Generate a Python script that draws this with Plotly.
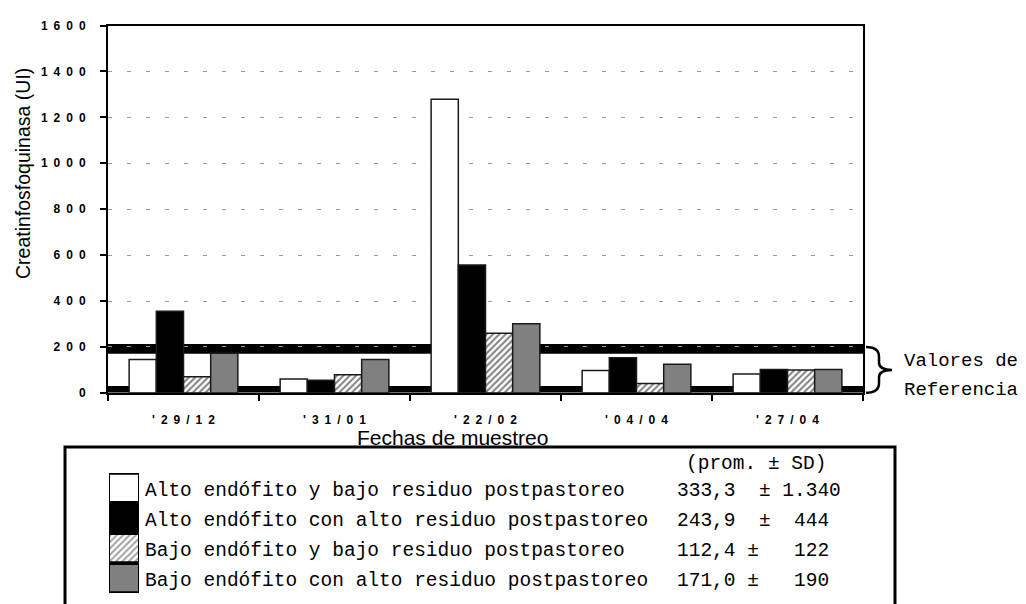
import plotly.graph_objects as go

# ---------------- data ----------------
categories = ["'29/12", "'31/01", "'22/02", "'04/04", "'27/04"]
alto_bajo = [145, 60, 1279, 97, 82]      # Alto endófito y bajo residuo
alto_alto = [355, 55, 557, 153, 102]     # Alto endófito con alto residuo
bajo_bajo = [70, 79, 260, 41, 99]        # Bajo endófito y bajo residuo
bajo_alto = [172, 145, 301, 125, 102]    # Bajo endófito con alto residuo

series_names = [
    "Alto endófito y bajo residuo postpastoreo",
    "Alto endófito con alto residuo postpastoreo",
    "Bajo endófito y bajo residuo postpastoreo",
    "Bajo endófito con alto residuo postpastoreo",
]
series_stats = ["333,3\u00a0\u00a0±\u00a01.340", "243,9\u00a0\u00a0±\u00a0\u00a0444",
                "112,4\u00a0±\u00a0\u00a0\u00a0122", "171,0\u00a0±\u00a0\u00a0\u00a0190"]
ref_band_high = [170, 213]
ref_band_low = [0, 30]
y_ticks = [0, 200, 400, 600, 800, 1000, 1200, 1400, 1600]

colors = ["white", "black", "white", "#808080"]
patterns = ["", "", "/", ""]

W, H = 1026, 604
def px(x): return x / W
def py(y): return 1 - y / H

EN = "\u2002"
def spaced(s):
    return EN.join(list(s))

fig = go.Figure()
for name, vals, c, p in zip(series_names, [alto_bajo, alto_alto, bajo_bajo, bajo_alto], colors, patterns):
    fig.add_trace(go.Bar(
        x=categories, y=vals, name=name, showlegend=False,
        marker=dict(color=c, line=dict(color="#1a1a1a", width=1.5),
                    pattern=dict(shape=p, fgcolor="black", bgcolor="white", size=4.5, solidity=0.45)),
        xaxis="x", yaxis="y"))

# legend swatches
fig.add_trace(go.Bar(
    x=[1, 1, 1, 1], y=[0, 1, 2, 3], orientation="h", width=0.94, showlegend=False,
    marker=dict(color=colors, line=dict(color="black", width=2),
                pattern=dict(shape=patterns, fgcolor="black", size=4.5, solidity=0.45)),
    xaxis="x2", yaxis="y2", hoverinfo="skip"))

tickfont = dict(family="Liberation Sans, Arial", size=12, color="black", weight=700)

fig.update_layout(
    width=W, height=H, margin=dict(l=0, r=0, t=0, b=0),
    paper_bgcolor="white", plot_bgcolor="white",
    barmode="group", bargap=0.28, bargroupgap=0,
    xaxis=dict(domain=[px(108), px(863)], type="category",
               tickvals=categories, ticktext=["<b>" + spaced(c) + "</b>" for c in categories],
               tickfont=tickfont, ticks="outside", tickson="boundaries", ticklen=6,
               tickwidth=1.5, tickcolor="black", showline=True, mirror=True,
               linecolor="black", linewidth=1.5, showgrid=False, ticklabelstandoff=15),
    yaxis=dict(domain=[py(395), py(19)], range=[0, 1600], tickvals=y_ticks,
               ticktext=["<b>" + spaced(str(v)) + "</b>" for v in y_ticks], tickfont=tickfont,
               ticks="outside", ticklen=6, tickwidth=1.5, tickcolor="black",
               showline=True, mirror=True, linecolor="black", linewidth=2,
               showgrid=True, gridcolor="#999999", griddash="4px,15px", gridwidth=1,
               zeroline=False, ticklabelstandoff=12),
    xaxis2=dict(domain=[px(109), px(139)], range=[0, 1], visible=False, anchor="y2"),
    yaxis2=dict(domain=[py(600), py(477)], range=[3.5, -0.5], visible=False, anchor="x2"),
)

# reference bands (behind bars)
for lo, hi in [ref_band_high, ref_band_low]:
    fig.add_shape(type="rect", xref="x domain", yref="y", x0=0, x1=1, y0=lo, y1=hi,
                  fillcolor="black", line=dict(width=0), layer="below")

# legend box
fig.add_shape(type="rect", xref="paper", yref="paper", x0=px(65), x1=px(895),
              y0=py(620), y1=py(450.5), line=dict(color="black", width=3),
              fillcolor="rgba(0,0,0,0)")

# brace
pts = "M {a},{b} Q {c},{b} {c},{d} L {c},{e} Q {c},{f} {g},{f} Q {c},{f} {c},{h} L {c},{i} Q {c},{j} {a},{j}".format(
    a=px(866), b=py(348), c=px(879), d=py(358), e=py(364), f=py(371.5), g=px(892),
    h=py(379), i=py(385), j=py(395))
fig.add_shape(type="path", xref="paper", yref="paper", path=pts,
              line=dict(color="black", width=2.5))

mono = dict(family="Liberation Mono, Courier New, monospace", size=19.5, color="black")
ann = []
ann.append(dict(text="Creatinfosfoquinasa (UI)", x=px(23), y=py(171), textangle=-90,
                font=dict(family="Liberation Sans, Arial", size=19.5, color="black")))
ann.append(dict(text="Fechas de muestreo", x=px(452), y=py(441),
                font=dict(family="Liberation Sans, Arial", size=21, color="black")))
ann.append(dict(text="(prom.\u00a0±\u00a0SD)", x=px(756), y=py(468), font=mono))
row_centers = [495, 526, 557, 588]
for name, st, yc in zip(series_names, series_stats, row_centers):
    ann.append(dict(text=name, x=px(143), y=py(yc), xanchor="left", font=mono))
    ann.append(dict(text=st, x=px(675), y=py(yc), xanchor="left", font=mono))
ann.append(dict(text="Valores de", x=px(902), y=py(362), xanchor="left", font=dict(mono, size=19)))
ann.append(dict(text="Referencia", x=px(902), y=py(392), xanchor="left", font=dict(mono, size=19)))
for a in ann:
    a.setdefault("xanchor", "center")
    a.update(xref="paper", yref="paper", showarrow=False, yanchor="middle")
fig.update_layout(annotations=ann)

fig.write_html("out.html", config={"displayModeBar": False},
               post_script="document.body.style.margin='0px';")
